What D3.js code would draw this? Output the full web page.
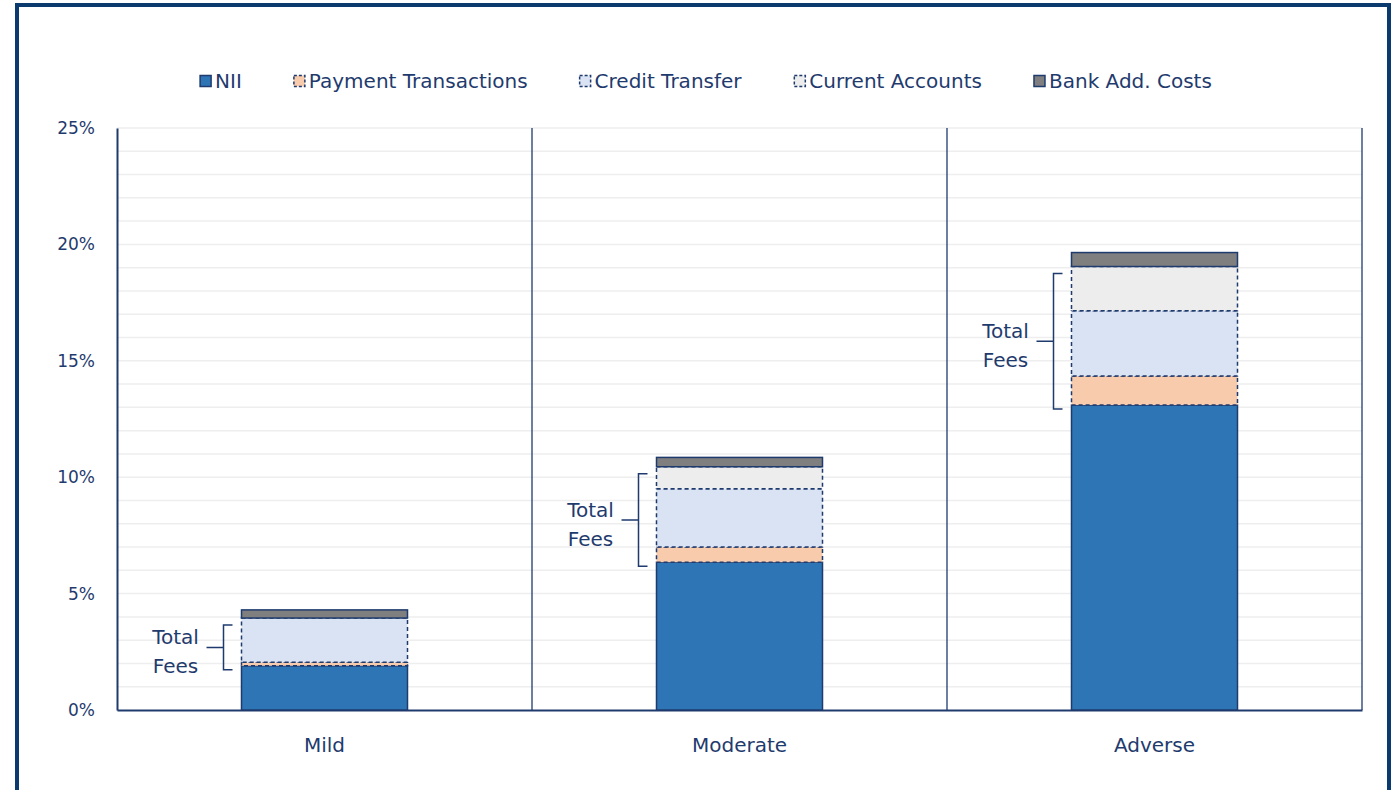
<!DOCTYPE html>
<html>
<head>
<meta charset="utf-8">
<script src="https://cdn.jsdelivr.net/npm/d3@7"></script>
<style>
  body { margin: 0; background: #fff; }
  svg { display: block; }
</style>
</head>
<body>
<div id="chart"></div>
<script>
// data
const categories = ["Mild", "Moderate", "Adverse"];
const seriesNames = ["NII", "Payment Transactions", "Credit Transfer", "Current Accounts", "Bank Add. Costs"];
const nii = [1.9, 6.35, 13.1];
const paymentTransactions = [0.15, 0.65, 1.25];
const creditTransfer = [1.9, 2.5, 2.8];
const currentAccounts = [0.0, 0.95, 1.9];
const bankAddCosts = [0.35, 0.4, 0.6];
const yTicks = [0, 5, 10, 15, 20, 25];

const width = 1393;
const height = 790;
const margin = {top: 128, right: 31, bottom: 80, left: 117};
const innerWidth = width - margin.left - margin.right;
const innerHeight = height - margin.top - margin.bottom;

const navy = "#1F3B6E";
const fontFamily = "'DejaVu Sans', sans-serif";
const colors = ["#2E75B6", "#F8CBAD", "#DAE3F3", "#EDEDED", "#7F7F7F"];
const dashed = [false, true, true, true, false];

const table = categories.map((c, i) => ({
  category: c,
  "NII": nii[i],
  "Payment Transactions": paymentTransactions[i],
  "Credit Transfer": creditTransfer[i],
  "Current Accounts": currentAccounts[i],
  "Bank Add. Costs": bankAddCosts[i]
}));

const svg = d3.select("#chart").append("svg")
  .attr("width", width)
  .attr("height", height);

// outer frame
svg.append("rect")
  .attr("x", 17).attr("y", 5)
  .attr("width", 1372).attr("height", 800)
  .attr("fill", "none")
  .attr("stroke", "#0B3A6E")
  .attr("stroke-width", 4);

const g = svg.append("g")
  .attr("transform", `translate(${margin.left},${margin.top})`);

const xScale = d3.scaleBand().domain(categories).range([0, innerWidth]);
const yScale = d3.scaleLinear().domain([0, 25]).range([innerHeight, 0]);

// gridlines every 1%
g.append("g").selectAll("line")
  .data(d3.range(1, 26))
  .join("line")
    .attr("x1", 0).attr("x2", innerWidth)
    .attr("y1", d => yScale(d)).attr("y2", d => yScale(d))
    .attr("stroke", "#EEEEEE")
    .attr("stroke-width", 1.5);

// category separators
g.append("g").selectAll("line")
  .data(categories)
  .join("line")
    .attr("x1", d => xScale(d) + xScale.bandwidth())
    .attr("x2", d => xScale(d) + xScale.bandwidth())
    .attr("y1", yScale(25)).attr("y2", yScale(0))
    .attr("stroke", navy)
    .attr("stroke-width", 1.3);

// y axis
const yAxis = g.append("g")
  .call(d3.axisLeft(yScale).tickValues(yTicks).tickSize(0).tickPadding(22).tickFormat(d => d + "%"));
yAxis.select(".domain").attr("stroke", navy).attr("stroke-width", 2);
yAxis.selectAll("text")
  .attr("fill", navy)
  .style("font-family", fontFamily)
  .style("font-size", "17px");

// x axis
const xAxis = g.append("g")
  .attr("transform", `translate(0,${innerHeight})`)
  .call(d3.axisBottom(xScale).tickSize(0).tickPadding(28));
xAxis.select(".domain").attr("stroke", navy).attr("stroke-width", 2);
xAxis.selectAll("text")
  .attr("fill", navy)
  .style("font-family", fontFamily)
  .style("font-size", "20px");

// stacked bars
const stackedData = d3.stack().keys(seriesNames)(table);
const barWidth = xScale.bandwidth() * 0.4;
const barX = c => xScale(c) + (xScale.bandwidth() - barWidth) / 2;

g.append("g").selectAll("g")
  .data(stackedData)
  .join("g")
    .attr("fill", (d, i) => colors[i])
    .attr("stroke", navy)
    .attr("stroke-width", 1.5)
    .attr("stroke-dasharray", (d, i) => dashed[i] ? "4,3" : null)
    .selectAll("rect")
    .data(d => d.filter(p => p[1] - p[0] > 0))
    .join("rect")
      .attr("x", d => barX(d.data.category))
      .attr("y", d => yScale(d[1]))
      .attr("width", barWidth)
      .attr("height", d => yScale(d[0]) - yScale(d[1]));

// "Total Fees" brackets
const fees = table.map(d => ({
  category: d.category,
  lo: d["NII"],
  hi: d["NII"] + d["Payment Transactions"] + d["Credit Transfer"] + d["Current Accounts"]
}));

const brackets = g.append("g");
fees.forEach(f => {
  const left = barX(f.category);
  const yb = yScale(f.lo) + 4;
  const yt = yScale(f.hi) + 7;
  const ym = (yb + yt) / 2;
  const xv = left - 18;
  const p = d3.path();
  p.moveTo(left - 9, yt);
  p.lineTo(xv, yt);
  p.lineTo(xv, yb);
  p.lineTo(left - 9, yb);
  p.moveTo(xv, ym);
  p.lineTo(left - 35, ym);
  brackets.append("path")
    .attr("d", p.toString())
    .attr("fill", "none")
    .attr("stroke", navy)
    .attr("stroke-width", 1.5);

  const t = brackets.append("text")
    .attr("x", left - 66)
    .attr("y", ym)
    .attr("text-anchor", "middle")
    .attr("fill", navy)
    .style("font-family", fontFamily)
    .style("font-size", "20px");
  t.append("tspan").attr("x", left - 66).attr("dy", "-0.15em").text("Total");
  t.append("tspan").attr("x", left - 66).attr("dy", "1.45em").text("Fees");
});

// legend
const legend = svg.append("g").attr("transform", "translate(0,81)");
const items = legend.selectAll("g")
  .data(seriesNames)
  .join("g");

items.append("rect")
  .attr("x", 0).attr("y", -5.5)
  .attr("width", 11).attr("height", 11)
  .attr("fill", (d, i) => colors[i])
  .attr("stroke", navy)
  .attr("stroke-width", 1.5)
  .attr("stroke-dasharray", (d, i) => dashed[i] ? "3,2" : null);

items.append("text")
  .attr("x", 15)
  .attr("dy", "0.35em")
  .attr("fill", navy)
  .style("font-family", fontFamily)
  .style("font-size", "20px")
  .text(d => d);

let widths = [];
items.each(function () {
  widths.push(this.getBBox().width);
});
const gap = 52;
const total = d3.sum(widths) + gap * (widths.length - 1);
let cursor = 706 - total / 2;
items.attr("transform", (d, i) => {
  const x = cursor;
  cursor += widths[i] + gap;
  return `translate(${x},0)`;
});
</script>
</body>
</html>
